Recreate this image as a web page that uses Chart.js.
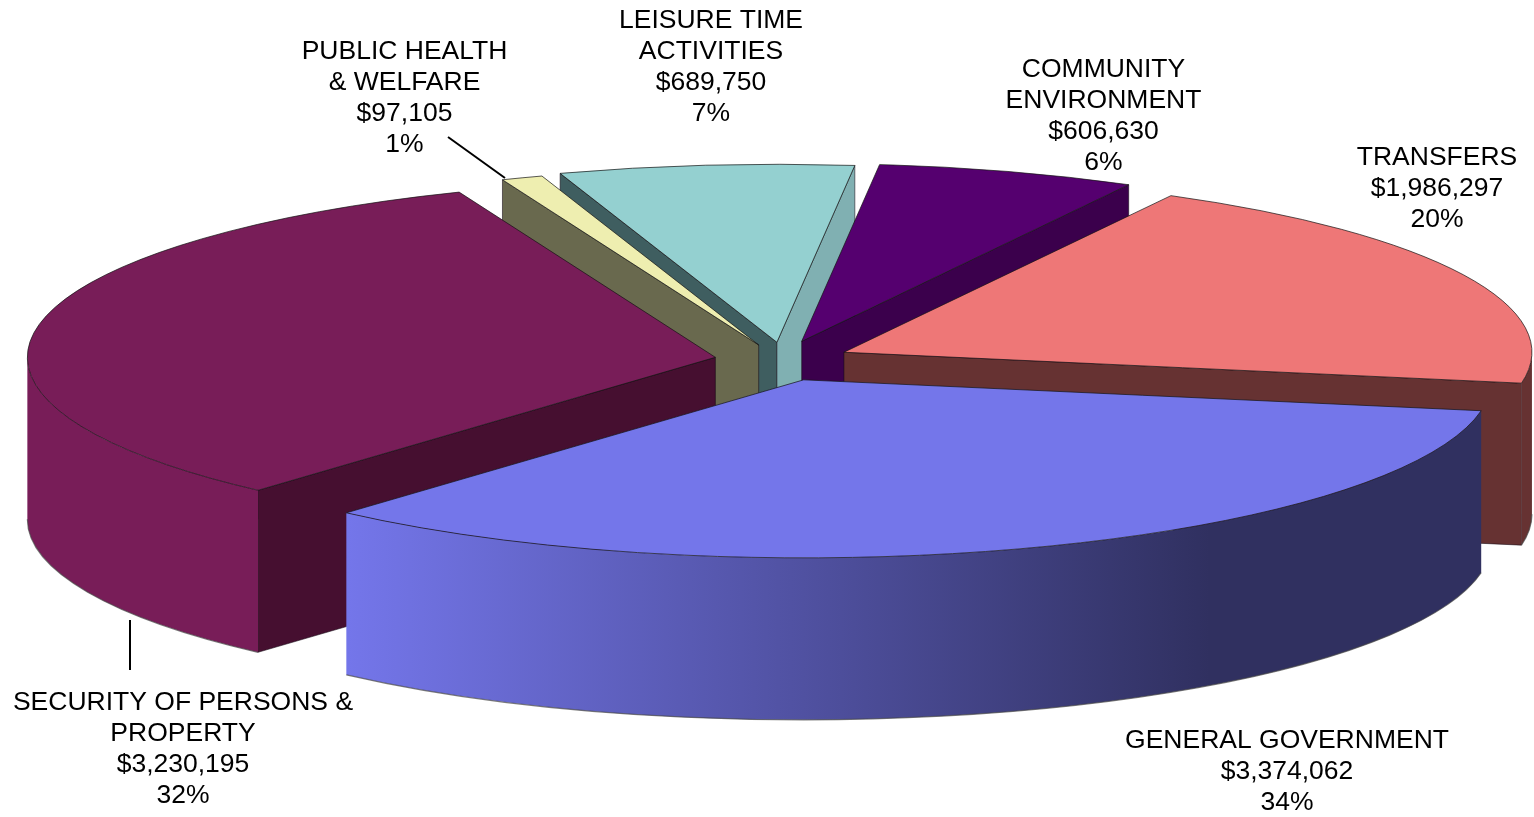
<!DOCTYPE html>
<html>
<head>
<meta charset="utf-8">
<title>Expenditures by function</title>
<script src="https://cdn.jsdelivr.net/npm/chart.js@4/dist/chart.umd.min.js"></script>
<style>
  html, body { margin: 0; padding: 0; background: #fff; overflow: hidden; }
  canvas { display: block; }
</style>
</head>
<body>
<canvas id="pie" width="1534" height="817"></canvas>
<script>
const categories = ['GENERAL GOVERNMENT', 'SECURITY OF PERSONS & PROPERTY', 'PUBLIC HEALTH & WELFARE', 'LEISURE TIME ACTIVITIES', 'COMMUNITY ENVIRONMENT', 'TRANSFERS'];
const values = [3374062, 3230195, 97105, 689750, 606630, 1986297];
const percents = ['34%', '32%', '1%', '7%', '6%', '20%'];

const topColors = ['#7476ea', '#781d58', '#eeeeb0', '#94d0d0', '#55006f', '#ee7777'];
const startWallColors = ['#303060', '#460f30', '#69694e', '#3f5e60', '#3b004c', '#663232'];
const endWallColors = ['#303060', '#460f30', '#69694e', '#80b0b2', '#3b004c', '#663232'];
const rimColors = [null, '#781d58', '#69694e', '#80b0b2', '#3b004c', '#663232'];

// label layout: wrapped name lines, centre x, centre y of first line
const labelLines = [['GENERAL GOVERNMENT'], ['SECURITY OF PERSONS &', 'PROPERTY'], ['PUBLIC HEALTH', '& WELFARE'], ['LEISURE TIME', 'ACTIVITIES'], ['COMMUNITY', 'ENVIRONMENT'], ['TRANSFERS']];
const labelX = [1287, 183, 404.5, 711, 1103.5, 1437];
const labelY = [741, 703, 52, 21, 70, 158];
const LINE_H = 30.8;

// pie projection
const CX = 775, CY = 360, RX = 688, RY = 178, DEPTH = 162;
const explode = [0.118, 0.088, 0.09, 0.1, 0.11, 0.1];
const shiftX = [2, 0, 5, 9, 4, 7]; // back slices sit a little to the right in the source
const START_DEG = 10;

function fmtMoney(v) {
  return '$' + v.toLocaleString('en-US');
}

const pie3d = {
  id: 'pie3d',
  beforeDatasetsDraw(chart) {
    const ctx = chart.ctx;
    const arcs = chart.getDatasetMeta(0).data;
    const order = arcs.map((_, i) => i).sort((a, b) => {
      const ma = (arcs[a].startAngle + arcs[a].endAngle) / 2;
      const mb = (arcs[b].startAngle + arcs[b].endAngle) / 2;
      return Math.sin(ma) - Math.sin(mb);
    });

    const sideGrad = ctx.createLinearGradient(347, 0, 1210, 0);
    sideGrad.addColorStop(0, '#7476ea');
    sideGrad.addColorStop(1, '#303060');

    order.forEach(i => {
      const el = arcs[i];
      const a = el.startAngle, b = el.endAngle, mid = (a + b) / 2;
      const ox = CX + shiftX[i] + explode[i] * RX * Math.cos(mid);
      const oy = CY + explode[i] * RY * Math.sin(mid);
      const rimPt = t => [ox + RX * Math.cos(t), oy + RY * Math.sin(t)];

      const radialWall = (t, color) => {
        const p = rimPt(t);
        ctx.beginPath();
        ctx.moveTo(ox, oy);
        ctx.lineTo(p[0], p[1]);
        ctx.lineTo(p[0], p[1] + DEPTH);
        ctx.lineTo(ox, oy + DEPTH);
        ctx.closePath();
        ctx.fillStyle = color;
        ctx.fill();
        ctx.lineWidth = 1;
        ctx.strokeStyle = 'rgba(20,10,20,0.55)';
        ctx.stroke();
      };
      // only the walls that face the viewer
      if (-Math.cos(a) > 0) radialWall(a, startWallColors[i]);
      if (Math.cos(b) > 0) radialWall(b, endWallColors[i]);

      // outer rim, front half of the ellipse only
      for (let k = 0; k < 2; k++) {
        const lo = Math.max(a, 2 * Math.PI * k), hi = Math.min(b, 2 * Math.PI * k + Math.PI);
        if (lo >= hi) continue;
        ctx.beginPath();
        ctx.ellipse(ox, oy, RX, RY, 0, lo, hi);
        ctx.ellipse(ox, oy + DEPTH, RX, RY, 0, hi, lo, true);
        ctx.closePath();
        ctx.fillStyle = rimColors[i] || sideGrad;
        ctx.fill();
        ctx.beginPath();
        ctx.ellipse(ox, oy + DEPTH, RX, RY, 0, lo, hi);
        ctx.lineWidth = 1.2;
        ctx.strokeStyle = 'rgba(70,70,70,0.7)';
        ctx.stroke();
      }

      // top face: the library's own arc, squashed and moved out
      ctx.save();
      ctx.translate(ox, oy);
      ctx.scale(RX / el.outerRadius, RY / el.outerRadius);
      ctx.translate(-el.x, -el.y);
      el.draw(ctx);
      ctx.restore();

      ctx.beginPath();
      ctx.moveTo(ox, oy);
      ctx.ellipse(ox, oy, RX, RY, 0, a, b);
      ctx.closePath();
      ctx.lineWidth = 1;
      ctx.strokeStyle = 'rgba(20,20,20,0.7)';
      ctx.stroke();
    });
    return false;
  },
  afterDraw(chart) {
    const ctx = chart.ctx;
    // leader lines
    ctx.strokeStyle = '#000';
    ctx.lineWidth = 2;
    ctx.beginPath();
    ctx.moveTo(448, 137);
    ctx.lineTo(505, 178);
    ctx.moveTo(130, 620);
    ctx.lineTo(130, 670);
    ctx.stroke();

    ctx.fillStyle = '#000';
    ctx.font = '26.5px "Liberation Sans", Arial, sans-serif';
    ctx.textAlign = 'center';
    ctx.textBaseline = 'middle';
    categories.forEach((_, i) => {
      const lines = labelLines[i].concat([fmtMoney(values[i]), percents[i]]);
      lines.forEach((txt, n) => ctx.fillText(txt, labelX[i], labelY[i] + n * LINE_H));
    });
  }
};

new Chart(document.getElementById('pie'), {
  type: 'pie',
  data: {
    labels: categories,
    datasets: [{ data: values, backgroundColor: topColors, borderWidth: 0 }]
  },
  options: {
    responsive: false,
    animation: false,
    rotation: 90 + START_DEG,
    layout: { padding: 0 },
    plugins: { legend: { display: false }, tooltip: { enabled: false } }
  },
  plugins: [pie3d]
});
</script>
</body>
</html>
